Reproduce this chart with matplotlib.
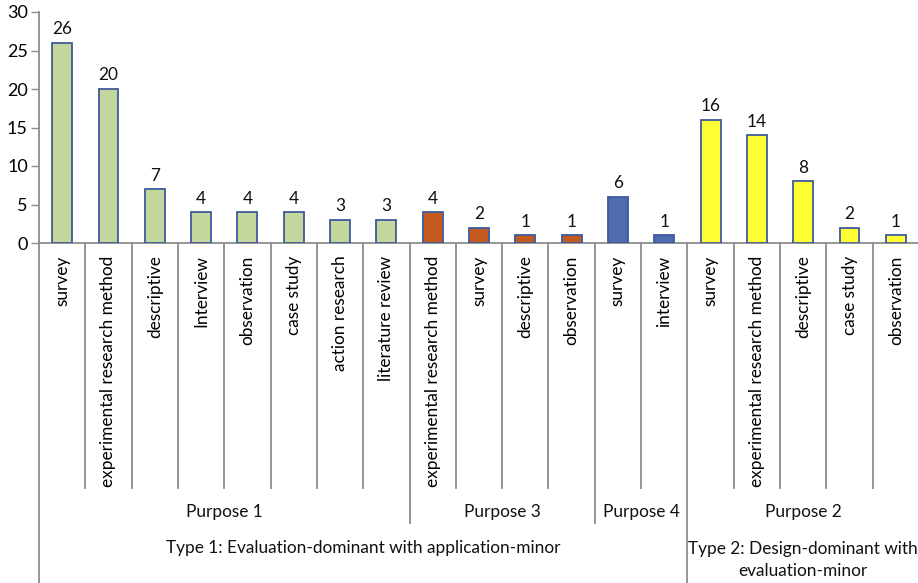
import matplotlib
matplotlib.use("Agg")
import matplotlib.pyplot as plt
from matplotlib.transforms import blended_transform_factory

plt.rcParams['font.family'] = ['Lato', 'DejaVu Sans']

categories = ["survey", "experimental research method", "descriptive", "Interview",
              "observation", "case study", "action research", "literature review",
              "experimental research method", "survey", "descriptive", "observation",
              "survey", "interview",
              "survey", "experimental research method", "descriptive", "case study", "observation"]
values = [26, 20, 7, 4, 4, 4, 3, 3, 4, 2, 1, 1, 6, 1, 16, 14, 8, 2, 1]
purposes = ["Purpose 1", "Purpose 3", "Purpose 4", "Purpose 2"]
purpose_sizes = [8, 4, 2, 5]
types = ["Type 1: Evaluation-dominant with application-minor",
         "Type 2: Design-dominant with\nevaluation-minor"]
type_sizes = [14, 5]
yticks = [0, 5, 10, 15, 20, 25, 30]

purpose_colors = ["#C3D69B", "#C55A1E", "#4F6CB0", "#FFFF33"]
edge_color = "#3F5A9C"
gray = "#8C8C8C"
fs = 12.4

bar_colors = []
for c, n in zip(purpose_colors, purpose_sizes):
    bar_colors += [c] * n

fig = plt.figure(figsize=(9.18, 5.83), dpi=100)
ax = fig.add_axes([39 / 918, 1 - 243 / 583, 880 / 918, 231 / 583])
x = list(range(len(values)))
bars = ax.bar(x, values, width=0.43, color=bar_colors, edgecolor=edge_color, linewidth=1.3, zorder=3)
for xi, v in zip(x, values):
    ax.annotate(str(v), (xi, v), xytext=(0, 4), textcoords="offset points",
                ha="center", va="bottom", fontsize=fs, color="#111111")

ax.set_xlim(-0.5, len(values) - 0.5)
ax.set_ylim(0, 30)
ax.set_yticks(yticks)
ax.tick_params(axis="y", direction="out", length=6, width=1, color=gray, labelsize=13, pad=2)
ax.set_xticks(x)
ax.set_xticklabels(categories, rotation=90, fontsize=fs, va="top", ha="center")
ax.tick_params(axis="x", length=0, pad=9)
for s in ["top", "right"]:
    ax.spines[s].set_visible(False)
ax.spines["left"].set_color(gray)
ax.spines["bottom"].set_color(gray)
ax.spines["left"].set_linewidth(1.3)
ax.spines["bottom"].set_linewidth(1.3)

tr = blended_transform_factory(ax.transData, ax.transAxes)
cat_bottom = (243 - 488) / 231
pur_bottom = (243 - 523) / 231
type_bottom = (243 - 590) / 231

purpose_bounds = []
s = 0
for n in purpose_sizes:
    s += n
    purpose_bounds.append(s)
type_bounds = []
s = 0
for n in type_sizes:
    s += n
    type_bounds.append(s)

for b in range(1, len(values)):
    if b in type_bounds:
        yb = type_bottom
    elif b in purpose_bounds:
        yb = pur_bottom
    else:
        yb = cat_bottom
    ax.plot([b - 0.5, b - 0.5], [0, yb], transform=tr, color=gray, lw=1.3, clip_on=False)
ax.plot([-0.5, -0.5], [0, type_bottom], transform=tr, color=gray, lw=1.3, clip_on=False)

start = 0
for p, n in zip(purposes, purpose_sizes):
    ax.text(start + n / 2 - 0.5, (243 - 512) / 231, p, transform=tr, ha="center", va="center",
            fontsize=fs, color="#111111")
    start += n
start = 0
for t, n in zip(types, type_sizes):
    yy = (243 - 548) / 231 if "\n" not in t else (243 - 560) / 231
    ax.text(start + n / 2 - 0.5, yy, t, transform=tr, ha="center", va="center",
            fontsize=fs, color="#111111", linespacing=1.4)
    start += n

fig.savefig("out.png", dpi=100)
